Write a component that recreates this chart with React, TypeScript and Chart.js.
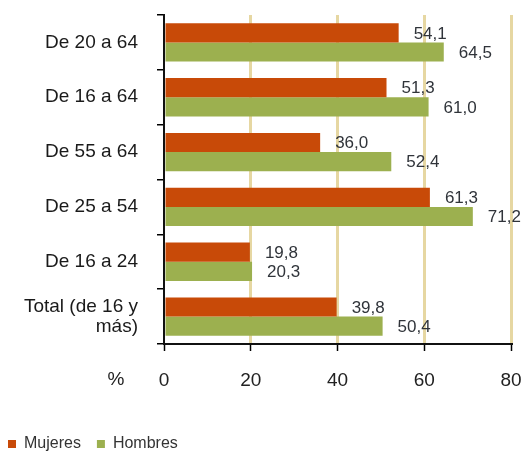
import { useEffect, useRef } from "react";
import { Chart, registerables } from "chart.js";

Chart.register(...registerables);

const categories: (string | string[])[] = [
  "De 20 a 64",
  "De 16 a 64",
  "De 55 a 64",
  "De 25 a 54",
  "De 16 a 24",
  ["Total (de 16 y", "más)"],
];
const mujeres = [54.1, 51.3, 36.0, 61.3, 19.8, 39.8];
const hombres = [64.5, 61.0, 52.4, 71.2, 20.3, 50.4];
const seriesNames = ["Mujeres", "Hombres"];
const seriesColors = ["#C84A08", "#9CB04F"];
const xMin = 0;
const xMax = 80;
const xStep = 20;
const unitLabel = "%";

const FONT = "'Liberation Sans', Arial, Helvetica, sans-serif";

const valueLabels = {
  id: "valueLabels",
  afterDatasetsDraw(chart: any) {
    const ctx = chart.ctx;
    ctx.save();
    ctx.font = `17px ${FONT}`;
    ctx.fillStyle = "#30343a";
    ctx.textAlign = "left";
    ctx.textBaseline = "middle";
    chart.data.datasets.forEach((ds: any, di: number) => {
      const meta = chart.getDatasetMeta(di);
      meta.data.forEach((bar: any, i: number) => {
        const v = ds.data[i] as number;
        ctx.fillText(v.toFixed(1).replace(".", ","), bar.x + 15, bar.y + 1);
      });
    });
    ctx.restore();
  },
};

const unitPlugin = {
  id: "unitPlugin",
  afterDraw(chart: any) {
    const ctx = chart.ctx;
    const xs = chart.scales.x;
    ctx.save();
    ctx.font = `19px ${FONT}`;
    ctx.fillStyle = "#222";
    ctx.textAlign = "center";
    ctx.textBaseline = "middle";
    ctx.fillText(unitLabel, chart.chartArea.left - 48, xs.top + 36);
    ctx.restore();
  },
};

export default function App() {
  const ref = useRef<HTMLCanvasElement>(null);
  useEffect(() => {
    if (!ref.current) return;
    const chart = new Chart(ref.current, {
      type: "bar",
      data: {
        labels: categories as any,
        datasets: [
          {
            label: seriesNames[0],
            data: mujeres,
            backgroundColor: seriesColors[0],
            categoryPercentage: 0.7,
            barPercentage: 1.0,
          },
          {
            label: seriesNames[1],
            data: hombres,
            backgroundColor: seriesColors[1],
            categoryPercentage: 0.7,
            barPercentage: 1.0,
          },
        ],
      },
      options: {
        indexAxis: "y",
        responsive: false,
        animation: false,
        devicePixelRatio: 1,
        layout: { padding: { left: -8, right: 15, top: 15, bottom: -9 } },
        plugins: {
          tooltip: { enabled: false },
          legend: {
            position: "bottom",
            align: "start",
            labels: {
              boxWidth: 8,
              boxHeight: 8,
              padding: 16,
              color: "#333",
              font: { family: FONT, size: 16 },
            },
          },
        },
        scales: {
          x: {
            min: xMin,
            max: xMax,
            ticks: {
              stepSize: xStep,
              color: "#222",
              padding: 18,
              font: { family: FONT, size: 19 },
            },
            grid: {
              color: (c: any) =>
                c.tick && c.tick.value === xMin ? "rgba(0,0,0,0)" : "#E6D7A2",
              lineWidth: 3,
              tickColor: "#000",
              tickWidth: 1.5,
              tickLength: 7,
            },
            border: { display: true, color: "#111", width: 2 },
            afterFit: (s: any) => {
              s.height = 76;
              s.paddingLeft = 0;
              s.paddingRight = 0;
            },
          },
          y: {
            ticks: {
              color: "#1a1a1a",
              padding: 19,
              font: { family: FONT, size: 19, lineHeight: 1.05 },
            },
            grid: {
              drawOnChartArea: false,
              color: "#000",
              lineWidth: 1.5,
              tickLength: 7,
              offset: true,
            },
            border: { display: true, color: "#111", width: 2 },
            afterFit: (s: any) => {
              s.width = 172;
              s.paddingTop = 0;
              s.paddingBottom = 0;
            },
          },
        },
      },
      plugins: [valueLabels, unitPlugin],
    });
    return () => chart.destroy();
  }, []);
  return (
    <div style={{ position: "fixed", left: 0, top: 0, width: 526, height: 453, background: "#fff" }}>
      <canvas ref={ref} width={526} height={453} />
    </div>
  );
}
